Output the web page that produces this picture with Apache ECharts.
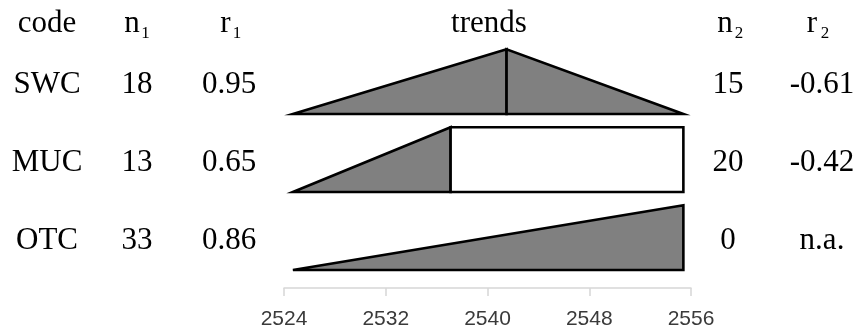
<!DOCTYPE html>
<html>
<head>
<meta charset="utf-8">
<script src="https://cdn.jsdelivr.net/npm/echarts@6/dist/echarts.min.js"></script>
<style>
  html, body { margin: 0; padding: 0; background: #fff; }
  #chart { width: 863px; height: 333px; }
</style>
</head>
<body>
<div id="chart"></div>
<script>
// Site table: sample counts, correlations and the two-phase trend of each site
const codes = ['SWC', 'MUC', 'OTC'];
const n1 = ['18', '13', '33'];
const r1 = ['0.95', '0.65', '0.86'];
const n2 = ['15', '20', '0'];
const r2 = ['-0.61', '-0.42', 'n.a.'];

// Trend phases (years): rising phase from start to break, then second phase to end
const trendStart = [2524.7, 2524.7, 2524.7];
const trendBreak = [2541.5, 2537.1, 2555.4];
const trendEnd = [2555.4, 2555.4, 2555.4];
const secondPhase = ['fall', 'flat', 'none'];

// Year axis ticks
const tickLabels = [2524, 2532, 2540, 2548, 2556];

const origin = tickLabels[0];
const step = tickLabels[1] - tickLabels[0];
const nRows = codes.length;
// row baseline on the hidden y scale: first row on top
const rowBase = codes.map((c, i) => nRows - 1 - i);
const ROW_H = 0.83;
const AXIS_GAP = 0.23;   // space between the last row and the year axis

const SERIF = '"Liberation Serif", "Times New Roman", serif';
const TEXT_SIZE = 31;

const trendData = codes.map((c, i) => [
  trendStart[i] - origin, trendBreak[i] - origin, trendEnd[i] - origin, rowBase[i]
]);

function renderTrend(params, api) {
  const i = params.dataIndex;
  const s = api.value(0), b = api.value(1), e = api.value(2), base = api.value(3);
  const top = base + ROW_H;
  const p = (x, y) => api.coord([x, y]);
  const stroke = { stroke: '#000', lineWidth: 2.6, lineJoin: 'miter' };
  const children = [{
    type: 'polygon',
    shape: { points: [p(s, base), p(b, top), p(b, base)] },
    style: Object.assign({ fill: '#808080' }, stroke)
  }];
  if (secondPhase[i] === 'fall') {
    children.push({
      type: 'polygon',
      shape: { points: [p(b, base), p(b, top), p(e, base)] },
      style: Object.assign({ fill: '#808080' }, stroke)
    });
  } else if (secondPhase[i] === 'flat') {
    children.push({
      type: 'polygon',
      shape: { points: [p(b, base), p(b, top), p(e, top), p(e, base)] },
      style: Object.assign({ fill: '#fff' }, stroke)
    });
  }
  return { type: 'group', children: children };
}

// column centres of the table text
const COLS = [
  { x: 47, values: codes },
  { x: 137, values: n1 },
  { x: 229, values: r1 },
  { x: 728, values: n2 },
  { x: 822, values: r2 }
];

function renderTable(params, api) {
  const i = params.dataIndex;
  const y = api.coord([0, api.value(1) + 0.4])[1] + 2;
  return {
    type: 'group',
    children: COLS.map(col => ({
      type: 'text',
      x: col.x, y: y,
      style: {
        text: col.values[i],
        fill: '#000',
        font: TEXT_SIZE + 'px ' + SERIF,
        align: 'center',
        verticalAlign: 'middle'
      }
    }))
  };
}

function headText(text, x, y, size) {
  return {
    type: 'text', x: x, y: y,
    style: {
      text: text, fill: '#000',
      font: size + 'px ' + SERIF,
      align: 'center', verticalAlign: 'middle'
    }
  };
}

const HEAD_Y = 24, SUB_Y = 34, SUB_SIZE = 17;

const chart = echarts.init(document.getElementById('chart'), null, { renderer: 'canvas' });
chart.setOption({
  animation: false,
  backgroundColor: '#fff',
  grid: { left: 284, right: 172, top: 36, bottom: 45, containLabel: false },
  xAxis: {
    type: 'value',
    min: 0,
    max: tickLabels[tickLabels.length - 1] - origin,
    interval: step,
    axisLine: { show: true, onZero: false, lineStyle: { color: '#d6d6d6', width: 1.5 } },
    axisTick: { show: true, length: 8, lineStyle: { color: '#d6d6d6', width: 1.5 } },
    splitLine: { show: false },
    axisLabel: {
      margin: 21,
      color: '#3a3a3a',
      fontFamily: '"Liberation Sans", Arial, sans-serif',
      fontSize: 21,
      formatter: v => String(tickLabels[Math.round(v / step)])
    }
  },
  yAxis: {
    type: 'value', min: -AXIS_GAP, max: nRows, show: false,
    splitLine: { show: false }
  },
  graphic: [
    headText('code', 47, HEAD_Y, TEXT_SIZE),
    headText('n', 132, HEAD_Y, TEXT_SIZE),
    headText('1', 145.5, SUB_Y, SUB_SIZE),
    headText('r', 225.5, HEAD_Y, TEXT_SIZE),
    headText('1', 237, SUB_Y, SUB_SIZE),
    headText('trends', 489, HEAD_Y, TEXT_SIZE),
    headText('n', 725, HEAD_Y, TEXT_SIZE),
    headText('2', 739, SUB_Y, SUB_SIZE),
    headText('r', 812, HEAD_Y, TEXT_SIZE),
    headText('2', 825, SUB_Y, SUB_SIZE)
  ],
  series: [
    {
      type: 'custom',
      name: 'trends',
      renderItem: renderTrend,
      encode: { x: [0, 1, 2], y: 3 },
      data: trendData,
      clip: false
    },
    {
      type: 'custom',
      name: 'table',
      renderItem: renderTable,
      encode: { y: 1 },
      data: codes.map((c, i) => [0, rowBase[i]]),
      silent: true
    }
  ]
});
</script>
</body>
</html>
